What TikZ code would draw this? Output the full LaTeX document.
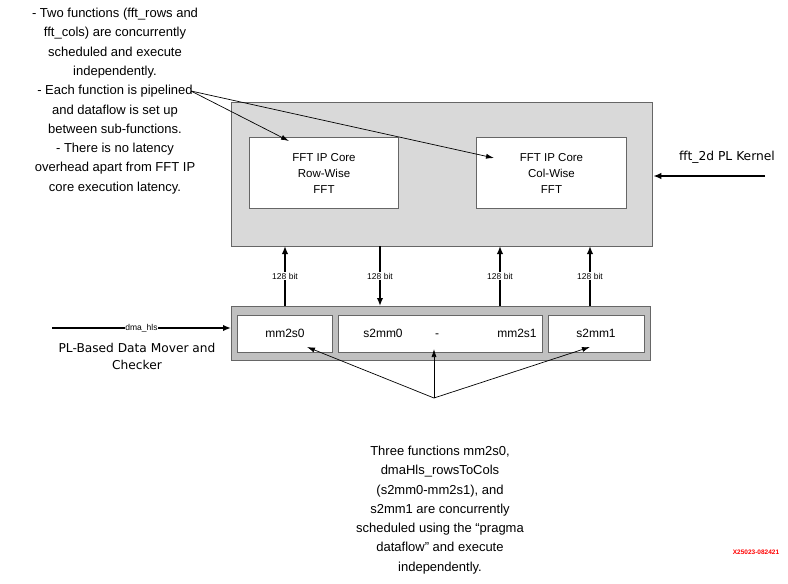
\documentclass[tikz,border=0pt]{standalone}
\usepackage{fontspec}
\setmainfont{Liberation Sans}
\newfontfamily\widefont{DejaVu Sans}
\usetikzlibrary{arrows.meta}
\definecolor{topfill}{HTML}{D9D9D9}
\definecolor{botfill}{HTML}{C0C0C0}
\definecolor{edge}{HTML}{666666}
\definecolor{xred}{HTML}{FF0000}
\begin{document}
\begin{tikzpicture}[x=1pt,y=-1pt,
  outerbox/.style={draw=edge,line width=1.3pt,inner sep=0pt,anchor=north west},
  innerbox/.style={draw=edge,fill=white,line width=1pt,inner sep=0pt,anchor=north west,align=center,font=\fontsize{11.5}{16}\selectfont},
  celltxt/.style={font=\fontsize{12}{13}\selectfont,text height=8.5pt,text depth=0pt,inner sep=0pt},
  bus/.style={line width=1.6pt,-{Latex[length=8pt,width=6.5pt]}},
  callout/.style={line width=0.7pt,-{Latex[length=8pt,width=5pt]}},
  buslbl/.style={font=\fontsize{8.5}{9}\selectfont,inner sep=1pt,fill=white},
  note/.style={align=center,font=\fontsize{13}{19.3}\selectfont,inner sep=0pt}]
\useasboundingbox (0,0) rectangle (788,584);
% top kernel box
\node[outerbox,fill=topfill,minimum width=421pt,minimum height=144pt] (kern) at (231,102) {};
\node[innerbox,minimum width=149pt,minimum height=71pt] (row) at (249,137) {FFT IP Core\\Row-Wise\\FFT};
\node[innerbox,minimum width=150pt,minimum height=71pt] (col) at (476,137) {FFT IP Core\\Col-Wise\\FFT};
% bottom data mover box
\node[outerbox,fill=botfill,minimum width=419pt,minimum height=54pt] (dm) at (231,306) {};
\node[innerbox,minimum width=95pt,minimum height=37pt] (mm2s0) at (237,315) {};
\node[innerbox,minimum width=204pt,minimum height=37pt] (mid) at (338,315) {};
\node[innerbox,minimum width=96pt,minimum height=37pt] (s2mm1) at (548,315) {};
\node[celltxt] (t0) at (285,333) {mm2s0};
\node[celltxt] (t1) at (383,333) {s2mm0};
\node[celltxt] (t2) at (437,333) {-};
\node[celltxt] (t3) at (517,333) {mm2s1};
\node[celltxt] (t4) at (596,333) {s2mm1};
% bus coordinates
\coordinate (b1) at (285,306); \coordinate (k1) at (285,246);
\coordinate (b2) at (380,306); \coordinate (k2) at (380,246);
\coordinate (b3) at (500,306); \coordinate (k3) at (500,246);
\coordinate (b4) at (590,306); \coordinate (k4) at (590,246);
\draw[bus] (b1) -- node[buslbl] (l1) {128 bit} (k1);
\draw[bus] (k2) -- node[buslbl] (l2) {128 bit} (b2);
\draw[bus] (b3) -- node[buslbl] (l3) {128 bit} (k3);
\draw[bus] (b4) -- node[buslbl] (l4) {128 bit} (k4);
% kernel input
\node[font=\widefont\fontsize{12.3}{13}\selectfont] (klbl) at (727,157) {fft\_2d PL Kernel};
\coordinate (kin) at (765,176);
\draw[bus] (kin) -- (kin -| kern.east);
% dma_hls input
\coordinate (din) at (52,328);
\draw[bus] (din) -- node[buslbl,inner sep=0.5pt] (dlbl) {dma\_hls} (din -| dm.west);
\node[note,font=\widefont\fontsize{12.2}{17}\selectfont] (dmtxt) at (137,356) {PL-Based Data Mover and\\Checker};
% top-left note
\node[note] (topnote) at (115,101) {- Two functions (fft\_rows and\\fft\_cols) are concurrently\\scheduled and execute\\independently.\\- Each function is pipelined\\and dataflow is set up\\between sub-functions.\\- There is no latency\\overhead apart from FFT IP\\core execution latency.};
\coordinate (tn) at (191,91);
\draw[callout] (tn) -- (289,141);
\draw[callout] (tn) -- (494,158);
% bottom note
\node[note] (botnote) at (440,510) {Three functions mm2s0,\\dmaHls\_rowsToCols\\(s2mm0-mm2s1), and\\s2mm1 are concurrently\\scheduled using the “pragma\\dataflow” and execute\\independently.};
\coordinate (bn) at (434,398);
\draw[callout] (bn) -- (307,347);
\draw[callout] (bn) -- (434,349);
\draw[callout] (bn) -- (590,347);
% figure id
\node[text=xred,font=\fontsize{6.5}{7}\selectfont\bfseries] (fid) at (756,552) {X25023-082421};
\end{tikzpicture}
\end{document}
